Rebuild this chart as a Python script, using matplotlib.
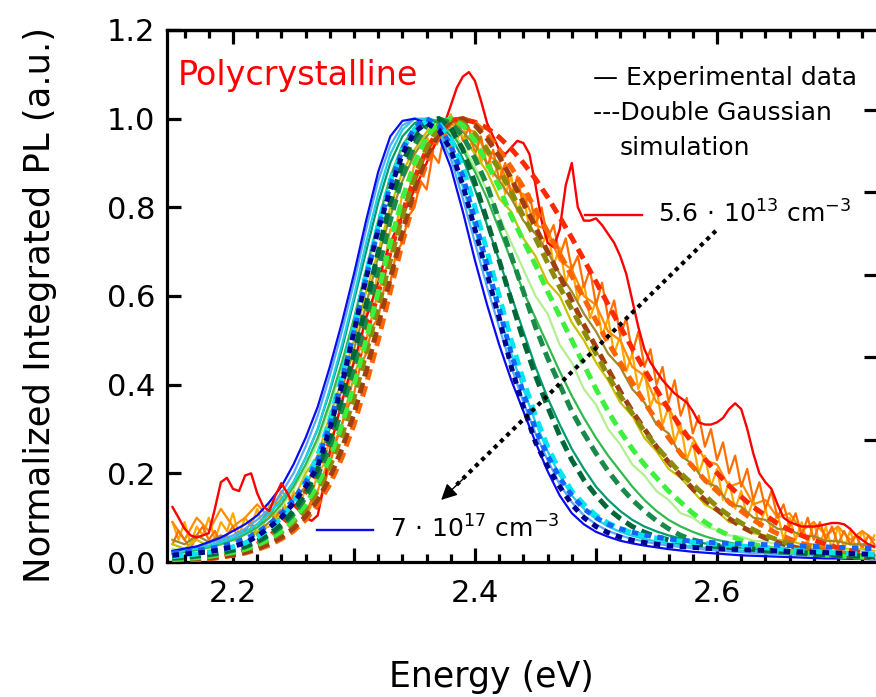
import numpy as np
import matplotlib
matplotlib.use('Agg')
import matplotlib.pyplot as plt
from matplotlib.ticker import MultipleLocator, FuncFormatter, NullFormatter, NullLocator

plt.rcParams['font.family'] = ['DejaVu Sans']
plt.rcParams['mathtext.default'] = 'regular'

# ---------------- data ----------------
energy = np.linspace(2.15, 2.73, 59)          # common energy grid (eV), 0.01 step
energy_fine = np.linspace(2.15, 2.73, 117)    # finer grid (0.005 step) for the noisiest curves

exp_blue = [0.025,0.03,0.035,0.045,0.055,0.07,0.085,0.105,0.135,0.17,0.22,0.28,0.35,0.44,0.54,0.65,0.77,0.88,0.96,0.995,1.0,0.99,0.96,0.89,0.79,0.68,0.58,0.49,0.41,0.34,0.27,0.205,0.15,0.11,0.085,0.068,0.057,0.048,0.042,0.037,0.033,0.029,0.026,0.023,0.021,0.019,0.017,0.015,0.014,0.013,0.012,0.011,0.010,0.009,0.008,0.008,0.007,0.007,0.006]
exp_lightblue = [0.025,0.03,0.035,0.042,0.05,0.06,0.075,0.095,0.12,0.155,0.2,0.26,0.33,0.42,0.52,0.63,0.75,0.86,0.94,0.985,1.0,0.995,0.965,0.91,0.82,0.72,0.62,0.53,0.44,0.36,0.29,0.23,0.175,0.135,0.105,0.085,0.07,0.06,0.052,0.046,0.041,0.037,0.034,0.031,0.028,0.026,0.024,0.022,0.020,0.019,0.018,0.017,0.016,0.015,0.014,0.013,0.012,0.012,0.011]
exp_cyan = [0.02,0.025,0.03,0.036,0.044,0.054,0.067,0.085,0.11,0.14,0.18,0.235,0.30,0.39,0.49,0.60,0.72,0.83,0.92,0.975,1.0,1.0,0.975,0.925,0.845,0.75,0.65,0.56,0.47,0.39,0.315,0.25,0.195,0.15,0.12,0.097,0.08,0.068,0.059,0.052,0.046,0.042,0.038,0.035,0.032,0.030,0.028,0.026,0.024,0.023,0.022,0.021,0.020,0.019,0.018,0.017,0.016,0.015,0.015]
exp_teal = [0.02,0.025,0.03,0.036,0.044,0.054,0.067,0.085,0.11,0.14,0.18,0.235,0.30,0.385,0.48,0.59,0.70,0.81,0.90,0.96,0.99,1.0,0.99,0.96,0.91,0.84,0.76,0.68,0.60,0.52,0.44,0.37,0.31,0.255,0.21,0.17,0.14,0.115,0.095,0.08,0.069,0.06,0.053,0.047,0.042,0.038,0.035,0.032,0.029,0.027,0.025,0.023,0.021,0.019,0.018,0.017,0.016,0.015,0.014]
exp_green = [0.018,0.022,0.027,0.033,0.04,0.05,0.062,0.078,0.1,0.13,0.17,0.22,0.28,0.36,0.45,0.55,0.66,0.77,0.87,0.94,0.98,1.0,0.995,0.97,0.93,0.88,0.82,0.75,0.68,0.61,0.55,0.49,0.43,0.375,0.325,0.28,0.24,0.205,0.17,0.14,0.115,0.095,0.08,0.068,0.058,0.05,0.044,0.039,0.035,0.032,0.029,0.027,0.025,0.023,0.021,0.019,0.018,0.017,0.016]
exp_lightgreen = [0.03,0.025,0.035,0.03,0.045,0.05,0.065,0.075,0.1,0.125,0.165,0.21,0.27,0.35,0.44,0.54,0.65,0.76,0.86,0.93,0.975,1.0,0.99,0.97,0.94,0.89,0.84,0.78,0.72,0.66,0.60,0.56,0.49,0.45,0.39,0.355,0.30,0.265,0.22,0.195,0.16,0.14,0.11,0.10,0.08,0.072,0.06,0.057,0.048,0.046,0.04,0.039,0.034,0.033,0.029,0.029,0.025,0.025,0.021]
exp_yellow = [0.04,0.03,0.05,0.035,0.045,0.05,0.04,0.07,0.08,0.11,0.14,0.2,0.24,0.33,0.41,0.5,0.61,0.7,0.8,0.88,0.93,0.97,1.0,0.98,0.96,0.92,0.88,0.82,0.79,0.73,0.69,0.63,0.6,0.54,0.5,0.45,0.41,0.36,0.33,0.28,0.25,0.21,0.19,0.16,0.13,0.115,0.09,0.085,0.065,0.06,0.05,0.048,0.04,0.04,0.033,0.035,0.028,0.03,0.025]
exp_olive = [0.05,0.04,0.06,0.045,0.06,0.05,0.07,0.065,0.09,0.1,0.14,0.17,0.23,0.3,0.39,0.48,0.58,0.69,0.78,0.86,0.92,0.96,0.99,1.0,0.97,0.94,0.9,0.86,0.82,0.77,0.74,0.70,0.65,0.61,0.56,0.52,0.47,0.44,0.39,0.36,0.31,0.29,0.24,0.22,0.18,0.17,0.13,0.125,0.10,0.095,0.075,0.072,0.06,0.058,0.048,0.047,0.04,0.04,0.033]
exp_orange2 = [0.09,0.05,0.1,0.07,0.12,0.08,0.1,0.13,0.1,0.16,0.13,0.1,0.16,0.24,0.31,0.42,0.5,0.61,0.69,0.79,0.85,0.93,0.95,1.0,0.98,0.97,0.92,0.9,0.84,0.83,0.76,0.75,0.68,0.66,0.6,0.58,0.52,0.5,0.44,0.42,0.36,0.35,0.29,0.28,0.23,0.22,0.17,0.18,0.13,0.14,0.1,0.11,0.07,0.09,0.06,0.08,0.05,0.07,0.05]

exp_orange1 = [0.09,0.05,0.09,0.04,0.08,0.06,0.10,0.05,0.09,0.07,
               0.11,0.06,0.10,0.08,0.12,0.08,0.13,0.10,0.15,0.11,
               0.16,0.12,0.17,0.15,0.20,0.22,0.28,0.30,0.37,0.39,
               0.46,0.48,0.56,0.58,0.66,0.67,0.75,0.76,0.83,0.83,
               0.90,0.88,0.96,0.93,1.0,0.96,1.01,0.95,0.99,0.93,
               0.97,0.90,0.94,0.87,0.90,0.83,0.87,0.79,0.83,0.75,
               0.79,0.71,0.75,0.67,0.71,0.63,0.67,0.59,0.63,0.55,
               0.59,0.51,0.55,0.47,0.51,0.43,0.47,0.39,0.43,0.35,
               0.39,0.31,0.35,0.27,0.31,0.23,0.27,0.20,0.24,0.17,
               0.21,0.14,0.18,0.12,0.16,0.10,0.14,0.08,0.12,0.07,
               0.11,0.05,0.10,0.05,0.09,0.04,0.09,0.04,0.08,0.03,
               0.08,0.03,0.07,0.03,0.07,0.03,0.06]
exp_orange3 = [0.04,0.07,0.05,0.03,0.06,0.08,0.05,0.07,0.04,0.06,
               0.08,0.05,0.07,0.09,0.06,0.10,0.12,0.09,0.13,0.10,
               0.15,0.13,0.11,0.14,0.12,0.17,0.22,0.27,0.31,0.35,
               0.38,0.44,0.47,0.53,0.55,0.62,0.63,0.70,0.72,0.78,
               0.80,0.86,0.84,0.92,0.90,0.97,0.93,1.0,0.95,0.98,
               0.92,0.96,0.89,0.93,0.86,0.90,0.82,0.87,0.80,0.83,
               0.76,0.80,0.73,0.76,0.69,0.73,0.66,0.69,0.62,0.66,
               0.58,0.63,0.55,0.59,0.51,0.55,0.47,0.52,0.44,0.48,
               0.40,0.44,0.36,0.41,0.33,0.37,0.29,0.33,0.26,0.30,
               0.23,0.27,0.20,0.24,0.17,0.21,0.14,0.18,0.12,0.16,
               0.10,0.13,0.08,0.11,0.06,0.10,0.05,0.09,0.05,0.08,
               0.04,0.07,0.04,0.06,0.03,0.06,0.04]
exp_red = [0.124,0.10,0.075,0.06,0.055,0.06,0.065,0.12,0.18,0.19,
           0.165,0.16,0.195,0.20,0.155,0.125,0.115,0.15,0.178,0.155,
           0.13,0.115,0.10,0.093,0.105,0.17,0.25,0.31,0.36,0.41,
           0.45,0.50,0.55,0.59,0.63,0.68,0.72,0.75,0.78,0.81,
           0.84,0.87,0.90,0.93,0.96,0.99,1.03,1.07,1.095,1.105,
           1.085,1.04,0.99,0.96,0.93,0.92,0.935,0.95,0.945,0.92,
           0.85,0.77,0.72,0.71,0.75,0.85,0.90,0.80,0.77,0.77,
           0.775,0.76,0.74,0.72,0.69,0.65,0.59,0.53,0.48,0.45,
           0.43,0.41,0.395,0.38,0.37,0.36,0.34,0.315,0.31,0.31,
           0.315,0.325,0.345,0.358,0.345,0.30,0.245,0.20,0.18,0.165,
           0.13,0.10,0.09,0.085,0.08,0.08,0.08,0.082,0.085,0.088,
           0.088,0.085,0.075,0.06,0.05,0.04,0.035]

sim_navy = [0.015,0.018,0.02,0.023,0.028,0.035,0.043,0.058,0.078,0.10,0.133,0.17,0.215,0.30,0.40,0.52,0.64,0.75,0.84,0.92,0.97,0.99,0.975,0.93,0.85,0.75,0.65,0.55,0.44,0.35,0.27,0.215,0.17,0.13,0.10,0.08,0.066,0.056,0.049,0.044,0.040,0.037,0.035,0.033,0.031,0.030,0.029,0.028,0.027,0.026,0.025,0.024,0.023,0.022,0.021,0.020,0.019,0.018,0.017]
sim_blue = [0.02,0.023,0.026,0.03,0.035,0.042,0.052,0.066,0.085,0.11,0.14,0.18,0.23,0.31,0.41,0.52,0.64,0.75,0.85,0.93,0.98,1.0,0.985,0.94,0.87,0.77,0.67,0.57,0.47,0.38,0.30,0.24,0.19,0.15,0.12,0.10,0.085,0.075,0.067,0.061,0.056,0.052,0.049,0.047,0.045,0.043,0.042,0.041,0.040,0.039,0.038,0.037,0.036,0.035,0.034,0.033,0.032,0.031,0.030]
sim_cyan = [0.012,0.015,0.018,0.022,0.027,0.034,0.043,0.056,0.075,0.10,0.135,0.18,0.24,0.32,0.42,0.53,0.65,0.76,0.86,0.93,0.975,0.995,0.99,0.955,0.89,0.80,0.70,0.60,0.50,0.41,0.33,0.26,0.205,0.16,0.13,0.105,0.088,0.075,0.066,0.059,0.054,0.050,0.047,0.044,0.042,0.040,0.038,0.036,0.034,0.032,0.030,0.028,0.026,0.024,0.022,0.020,0.019,0.018,0.017]
sim_dkgreen1 = [0.01,0.012,0.015,0.018,0.022,0.028,0.036,0.047,0.063,0.085,0.115,0.155,0.21,0.28,0.37,0.47,0.58,0.70,0.81,0.90,0.96,0.995,1.0,0.98,0.93,0.855,0.77,0.68,0.59,0.50,0.42,0.35,0.285,0.23,0.185,0.15,0.12,0.098,0.08,0.067,0.057,0.05,0.045,0.041,0.038,0.035,0.033,0.031,0.029,0.027,0.025,0.023,0.021,0.019,0.017,0.015,0.014,0.013,0.012]
sim_dkgreen2 = [0.008,0.01,0.013,0.016,0.02,0.026,0.034,0.045,0.06,0.08,0.108,0.145,0.195,0.26,0.345,0.44,0.55,0.66,0.77,0.87,0.94,0.985,1.0,0.99,0.96,0.91,0.85,0.77,0.69,0.61,0.53,0.46,0.40,0.34,0.29,0.245,0.205,0.17,0.14,0.115,0.093,0.075,0.06,0.05,0.043,0.038,0.034,0.031,0.028,0.025,0.023,0.021,0.019,0.017,0.016,0.015,0.014,0.013,0.012]
sim_brightgreen = [0.006,0.008,0.01,0.013,0.017,0.022,0.029,0.039,0.052,0.07,0.095,0.13,0.175,0.235,0.31,0.40,0.50,0.61,0.72,0.82,0.90,0.96,0.99,1.0,0.985,0.95,0.90,0.845,0.78,0.725,0.67,0.61,0.555,0.50,0.445,0.39,0.34,0.295,0.255,0.22,0.19,0.16,0.135,0.11,0.09,0.073,0.06,0.049,0.04,0.033,0.028,0.024,0.02,0.018,0.016,0.014,0.012,0.011,0.01]
sim_olive = [0.005,0.007,0.009,0.012,0.016,0.021,0.028,0.037,0.05,0.067,0.09,0.12,0.16,0.215,0.285,0.37,0.47,0.575,0.68,0.78,0.87,0.935,0.98,1.0,0.99,0.965,0.93,0.885,0.835,0.78,0.73,0.675,0.62,0.57,0.52,0.47,0.42,0.375,0.335,0.295,0.26,0.23,0.20,0.175,0.15,0.125,0.105,0.088,0.073,0.06,0.05,0.041,0.034,0.028,0.023,0.019,0.016,0.013,0.011]
sim_brown = [0.004,0.005,0.007,0.009,0.012,0.016,0.022,0.03,0.041,0.056,0.076,0.103,0.14,0.19,0.255,0.335,0.43,0.535,0.64,0.745,0.84,0.915,0.965,0.995,1.0,0.985,0.955,0.915,0.865,0.81,0.755,0.70,0.645,0.59,0.535,0.485,0.435,0.385,0.34,0.30,0.26,0.225,0.195,0.165,0.14,0.118,0.098,0.08,0.066,0.054,0.044,0.036,0.029,0.024,0.019,0.016,0.013,0.011,0.009]
sim_orange = [0.003,0.004,0.006,0.008,0.011,0.015,0.02,0.028,0.038,0.052,0.07,0.095,0.13,0.175,0.235,0.31,0.4,0.5,0.61,0.72,0.82,0.9,0.96,0.99,1.0,0.99,0.965,0.93,0.89,0.845,0.795,0.745,0.695,0.645,0.595,0.545,0.495,0.45,0.405,0.36,0.32,0.28,0.245,0.215,0.185,0.16,0.135,0.115,0.095,0.078,0.064,0.052,0.042,0.034,0.027,0.022,0.018,0.014,0.011]
sim_red = [0.0015,0.0025,0.004,0.007,0.011,0.017,0.027,0.04,0.058,0.083,0.115,0.158,0.21,0.27,0.344,0.425,0.515,0.607,0.70,0.787,0.865,0.93,0.974,0.997,0.999,0.992,0.979,0.958,0.932,0.90,0.864,0.823,0.778,0.731,0.682,0.632,0.581,0.531,0.482,0.434,0.389,0.345,0.305,0.267,0.232,0.201,0.172,0.147,0.124,0.105,0.087,0.072,0.06,0.049,0.04,0.032,0.026,0.02,0.016]

exp_series = [
    (energy_fine, exp_orange1, '#FFA800'), (energy, exp_orange2, '#FF8C00'),
    (energy_fine, exp_orange3, '#FF6E00'),
    (energy, exp_olive, '#A08A28'), (energy, exp_yellow, '#C8C000'),
    (energy, exp_lightgreen, '#B0F090'), (energy, exp_green, '#33B84C'),
    (energy, exp_teal, '#009B6E'), (energy, exp_cyan, '#20D0E0'),
    (energy, exp_lightblue, '#55AAFF'), (energy, exp_blue, '#0A0AF5'),
]
sim_series = [
    (sim_red, '#FF2800', (2.2, 1.3)), (sim_orange, '#FF6400', (2.2, 1.3)),
    (sim_brown, '#A04010', (2.2, 1.3)), (sim_olive, '#8C8C0A', (2.2, 1.3)),
    (sim_brightgreen, '#3CF03C', (2.2, 1.3)), (sim_dkgreen2, '#1A8A4A', (2.2, 1.3)),
    (sim_dkgreen1, '#006838', (2.2, 1.3)), (sim_cyan, '#00E6F0', (2.2, 1.3)),
    (sim_blue, '#1464FF', (1.3, 1.3)), (sim_navy, '#00008C', (1.3, 1.3)),
]

# ---------------- figure ----------------
W, H = 876, 697
fig = plt.figure(figsize=(W / 100, H / 100), dpi=100)
ax = fig.add_axes([167 / W, (H - 562) / H, (878.5 - 167) / W, (562 - 30) / H])

for xs, vals, col in exp_series:
    ax.plot(xs, vals, color=col, lw=1.6, zorder=2)
ax.plot(energy_fine, exp_red, color='#FF0000', lw=1.7, zorder=2)
for vals, col, dsh in sim_series:
    ax.plot(energy, vals, color=col, lw=3.6, dashes=dsh, zorder=3)

ax.set_xlim(2.145455, 2.733471)
ax.set_ylim(0, 1.2)

ax.xaxis.set_major_locator(MultipleLocator(0.1))
ax.xaxis.set_minor_locator(MultipleLocator(0.02))
ax.xaxis.set_major_formatter(FuncFormatter(
    lambda v, p: f"{v:.1f}" if int(round(v * 10)) % 2 == 0 else ""))
ax.yaxis.set_major_locator(MultipleLocator(0.2))
ax.yaxis.set_major_formatter(FuncFormatter(lambda v, p: f"{v:.1f}"))

for s in ax.spines.values():
    s.set_linewidth(2.3)
ax.tick_params(which='both', direction='in', width=2.3, labelsize=22,
               top=False, right=False)
ax.tick_params(axis='x', which='major', length=10, pad=12)
ax.tick_params(axis='x', which='minor', length=6)
ax.tick_params(axis='y', which='major', length=10, pad=8.5)

top = ax.secondary_xaxis('top')
top.xaxis.set_major_locator(MultipleLocator(0.2))
top.xaxis.set_minor_locator(MultipleLocator(0.02))
top.xaxis.set_major_formatter(NullFormatter())
top.tick_params(which='both', direction='in', width=2.3, labeltop=False)
top.tick_params(which='major', length=10)
top.tick_params(which='minor', length=6)
top.spines['top'].set_linewidth(2.3)

right = ax.secondary_yaxis('right')
right.set_yticks([1.02, 0.834, 0.648, 0.462, 0.276])
right.yaxis.set_minor_locator(NullLocator())
right.yaxis.set_major_formatter(NullFormatter())
right.tick_params(direction='in', length=11, width=2.3, labelright=False)
right.spines['right'].set_linewidth(2.3)

def fx(px):
    return px / W

def fy(py):
    return 1 - py / H

fig.text(fx(40), fy(305), 'Normalized Integrated PL (a.u.)', rotation=90,
         ha='center', va='center', fontsize=25.5)
fig.text(fx(491), fy(687), 'Energy (eV)', ha='center', va='baseline', fontsize=25)

fig.text(fx(178), fy(85), 'Polycrystalline', color='#FF0000', fontsize=24,
         ha='left', va='baseline')
fig.text(fx(593), fy(85), '\u2014 Experimental data', fontsize=18, ha='left', va='baseline')
fig.text(fx(593), fy(120), '---Double Gaussian', fontsize=18, ha='left', va='baseline')
fig.text(fx(620), fy(155), 'simulation', fontsize=18, ha='left', va='baseline')

# annotation keys
ax.plot([2.4909, 2.538], [0.7828, 0.7828], color='#FF0000', lw=1.7, zorder=4)
fig.text(fx(658), fy(223), r'5.6$\,\cdot\,$10$^{13}$ cm$^{-3}$', fontsize=18,
         ha='left', va='baseline')
ax.plot([2.2694, 2.3157], [0.0722, 0.0722], color='#0A0AF5', lw=1.7, zorder=4)
fig.text(fx(390), fy(538), r'7$\,\cdot\,$10$^{17}$ cm$^{-3}$', fontsize=18,
         ha='left', va='baseline')

# dotted arrow
start = (2.599, 0.747)
tip = (2.372, 0.14)
ax.plot([start[0], 2.384], [start[1], 0.172], color='k', lw=3.0,
        dashes=(1, 1.1), zorder=5)
ax.annotate('', xy=tip, xytext=(2.390, 0.187),
            arrowprops=dict(arrowstyle='-|>', color='k', lw=1.0,
                            mutation_scale=24, shrinkA=0, shrinkB=0),
            zorder=6)

fig.savefig('out.png', dpi=100)
